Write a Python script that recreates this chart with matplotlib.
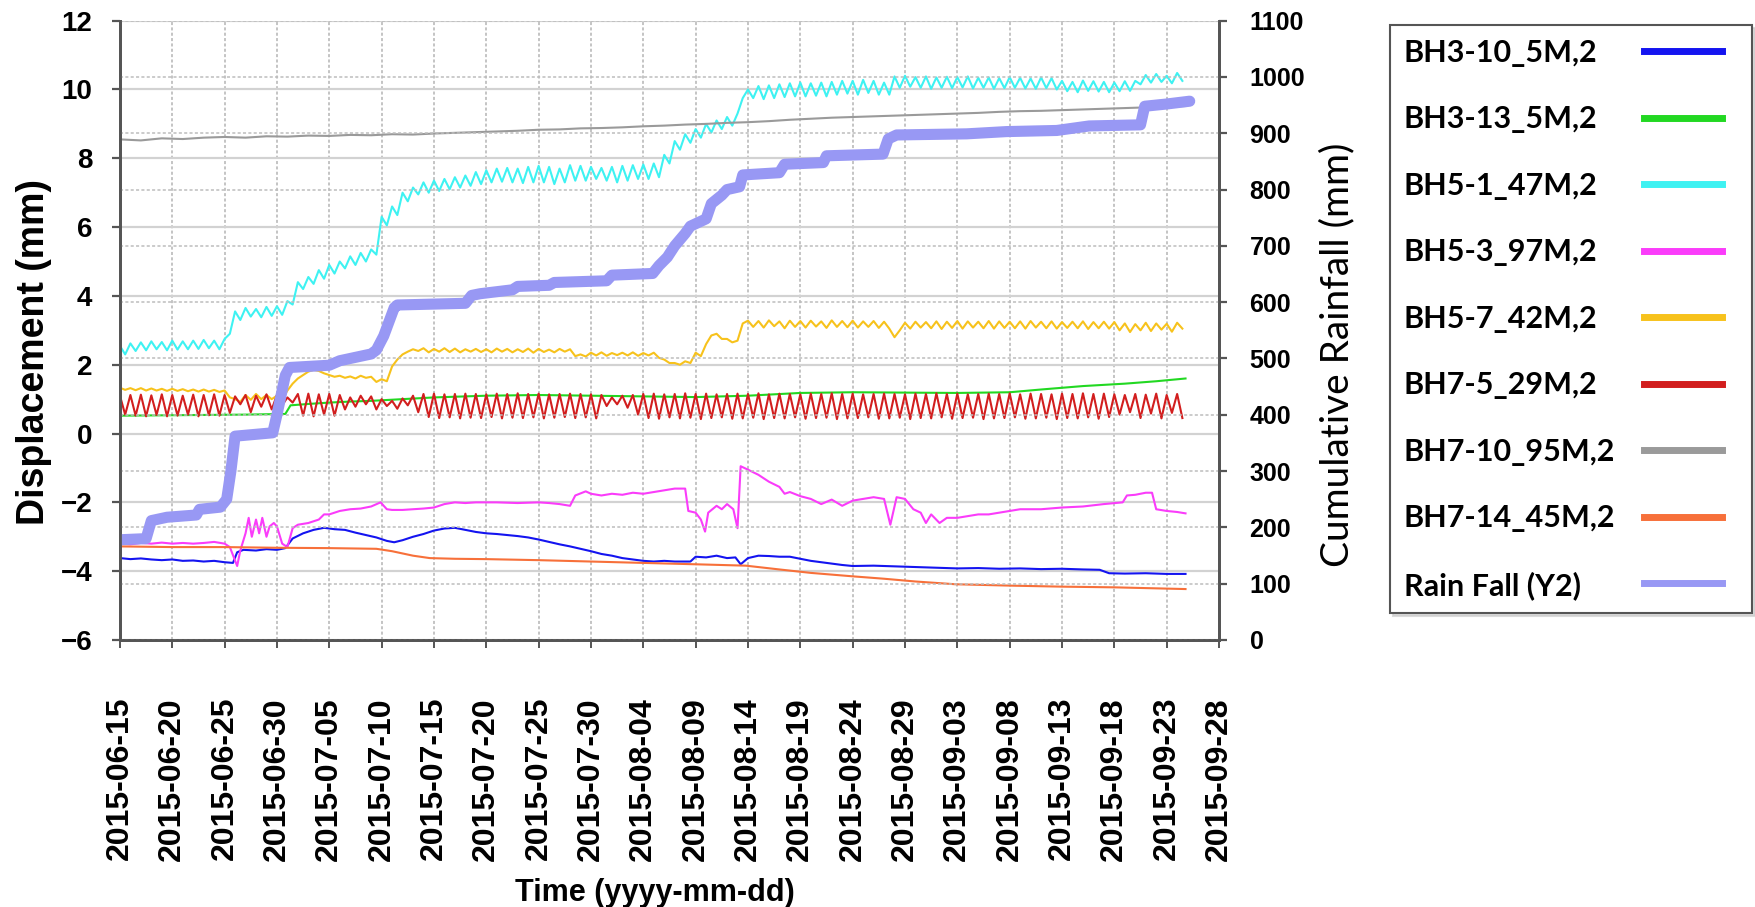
import numpy as np
import pandas as pd
import matplotlib
matplotlib.use('Agg')
import matplotlib.pyplot as plt
import matplotlib.dates as mdates
from matplotlib.lines import Line2D
from matplotlib import font_manager

# ---- data (x = days after 2015-06-15) ----
START = pd.Timestamp('2015-06-15')

labels = ['BH3-10_5M,2', 'BH3-13_5M,2', 'BH5-1_47M,2', 'BH5-3_97M,2',
          'BH5-7_42M,2', 'BH7-5_29M,2', 'BH7-10_95M,2', 'BH7-14_45M,2',
          'Rain Fall (Y2)']
colors = ['#1414f0', '#22d822', '#3ef2f2', '#fa3cfa',
          '#f7c21c', '#d21e1e', '#9a9a9a', '#f7703a', '#9898f4']

blue_days = [0, 1, 2, 3, 4, 5, 6, 7, 8, 9, 10, 10.8, 11.2, 11.8, 13, 14, 15, 15.8,
             16.5, 17.5, 18.5, 19.5, 20.5, 21.5, 22.5, 23.5, 24.5, 25.5, 26.2, 27,
             28, 29, 30, 31, 32, 33, 34, 35, 36, 37, 38, 39, 40, 41, 42, 43, 44, 45,
             46, 47, 48, 49, 50, 51, 52, 53, 54.5, 55, 56, 57, 58, 58.8, 59.3, 60,
             61, 62, 63, 64, 65, 66, 67, 68, 69, 70, 72, 74, 76, 78, 80, 82, 84, 86,
             88, 90, 92, 93.6, 94.5, 96, 98, 100, 101.8]
blue_vals = [-3.62, -3.65, -3.63, -3.66, -3.68, -3.66, -3.70, -3.69, -3.72, -3.70,
             -3.74, -3.76, -3.45, -3.38, -3.40, -3.36, -3.38, -3.33, -3.05, -2.90,
             -2.80, -2.74, -2.78, -2.80, -2.88, -2.95, -3.02, -3.12, -3.16, -3.10,
             -3.00, -2.92, -2.82, -2.76, -2.74, -2.80, -2.86, -2.90, -2.92, -2.95,
             -2.98, -3.02, -3.08, -3.15, -3.22, -3.28, -3.35, -3.42, -3.50, -3.55,
             -3.62, -3.66, -3.70, -3.72, -3.70, -3.72, -3.72, -3.58, -3.60, -3.55,
             -3.62, -3.60, -3.80, -3.62, -3.55, -3.56, -3.58, -3.58, -3.64, -3.70,
             -3.74, -3.78, -3.82, -3.85, -3.84, -3.86, -3.88, -3.90, -3.92, -3.91,
             -3.93, -3.92, -3.94, -3.93, -3.95, -3.96, -4.06, -4.07, -4.06, -4.08,
             -4.08]

green_days = [0, 4, 8, 12, 15.8, 16.3, 18, 20, 22, 24, 27, 30, 35, 40, 45, 50, 55,
              60, 65, 70, 75, 80, 85, 88, 92, 96, 99, 101.8]
green_vals = [0.52, 0.53, 0.54, 0.55, 0.57, 0.82, 0.86, 0.90, 0.93, 0.95, 1.00,
              1.05, 1.10, 1.12, 1.10, 1.08, 1.06, 1.10, 1.18, 1.20, 1.19, 1.18,
              1.20, 1.28, 1.38, 1.45, 1.52, 1.60]

cyan_hi = [2.55, 2.62, 2.65, 2.68, 2.66, 2.70, 2.68, 2.70, 2.72, 2.70, 2.75,
           3.55, 3.65, 3.62, 3.68, 3.70,
           3.85, 4.40, 4.55, 4.75, 4.90, 5.00, 5.15, 5.25, 5.35,
           6.30, 6.60, 7.00, 7.15, 7.30, 7.35, 7.40, 7.45, 7.50, 7.60,
           7.65, 7.70, 7.72, 7.70, 7.75, 7.78, 7.75, 7.70, 7.80, 7.78, 7.75, 7.72,
           7.75, 7.78, 7.80, 7.82, 7.85,
           8.10, 8.50, 8.70, 8.85, 9.00, 9.10, 9.20, 9.30,
           10.00, 10.10, 10.12, 10.15, 10.18, 10.20, 10.18, 10.20, 10.22, 10.25,
           10.25, 10.28, 10.25, 10.20,
           10.38, 10.40, 10.36, 10.38, 10.35, 10.37, 10.36, 10.38, 10.34, 10.35,
           10.33, 10.36, 10.34, 10.32, 10.35, 10.33,
           10.25, 10.22, 10.26, 10.24, 10.22, 10.20, 10.24, 10.25,
           10.42, 10.45, 10.40, 10.48]
cyan_lo = [2.30, 2.40, 2.42, 2.45, 2.42, 2.44, 2.45, 2.46, 2.48, 2.45, 2.90,
           3.30, 3.40, 3.38, 3.42, 3.45,
           3.75, 4.20, 4.35, 4.50, 4.65, 4.80, 4.90, 5.00, 5.20,
           6.05, 6.35, 6.75, 6.95, 7.00, 7.05, 7.10, 7.15, 7.20, 7.25,
           7.30, 7.32, 7.30, 7.28, 7.30, 7.30, 7.25, 7.30, 7.35, 7.35, 7.40, 7.35,
           7.30, 7.35, 7.40, 7.40, 7.45,
           7.85, 8.25, 8.45, 8.60, 8.75, 8.85, 8.95, 9.75,
           9.75, 9.72, 9.75, 9.78, 9.80, 9.80, 9.82, 9.80, 9.85, 9.88, 9.85, 9.90,
           9.85, 9.85,
           10.05, 10.08, 10.05, 10.02, 10.05, 10.04, 10.06, 10.03, 10.05, 10.02,
           10.04, 10.05, 10.03, 10.02, 10.04, 10.00,
           9.95, 9.92, 9.96, 9.94, 9.92, 9.95, 9.96, 10.15,
           10.20, 10.22, 10.18, 10.25]

magenta_days = [0, 1, 2, 3, 4, 5, 6, 7, 8, 9, 10, 10.5, 11.2, 11.5, 12, 12.3, 12.6,
                13, 13.3, 13.6, 14, 14.3, 14.7, 15, 15.5, 16, 16.5, 17, 18, 19,
                19.5, 20, 21, 22, 23, 24, 24.9, 25.5, 26, 27, 28, 29, 30, 31, 32,
                33, 34, 36, 38, 40, 41, 42, 43, 43.5, 44.5, 45, 46, 47, 48, 49, 50,
                51, 52, 53, 54, 54.3, 55, 55.5, 55.9, 56.2, 57, 57.5, 58, 58.6, 59,
                59.3, 60, 61, 62, 63, 63.5, 64, 65, 66, 67, 68, 69, 70, 71, 72, 73,
                73.6, 74.2, 75, 75.8, 76.5, 77, 77.5, 78.3, 79, 80, 81, 82, 83, 84,
                85, 86, 88, 90, 92, 94, 95.8, 96.2, 97, 98, 98.6, 99, 100, 101,
                101.8]
magenta_vals = [-3.20, -3.22, -3.18, -3.20, -3.17, -3.20, -3.18, -3.20, -3.18,
                -3.15, -3.20, -3.30, -3.85, -3.40, -2.90, -2.45, -3.00, -2.50,
                -2.90, -2.45, -3.00, -2.70, -2.60, -2.70, -3.20, -3.30, -2.75,
                -2.65, -2.60, -2.50, -2.35, -2.35, -2.25, -2.20, -2.18, -2.12,
                -2.00, -2.20, -2.22, -2.22, -2.20, -2.18, -2.15, -2.05, -2.00,
                -2.02, -2.00, -2.00, -2.02, -2.00, -2.02, -2.05, -2.10, -1.80,
                -1.68, -1.75, -1.80, -1.75, -1.78, -1.72, -1.75, -1.70, -1.65,
                -1.60, -1.60, -2.25, -2.30, -2.50, -2.85, -2.30, -2.10, -2.20,
                -2.05, -2.20, -2.75, -0.95, -1.05, -1.20, -1.40, -1.55, -1.75,
                -1.70, -1.82, -1.90, -2.05, -1.92, -2.10, -1.95, -1.90, -1.85,
                -1.90, -2.65, -1.85, -1.90, -2.20, -2.30, -2.60, -2.35, -2.60,
                -2.45, -2.45, -2.40, -2.35, -2.35, -2.30, -2.25, -2.20, -2.20,
                -2.15, -2.12, -2.05, -2.00, -1.80, -1.78, -1.72, -1.72, -2.20,
                -2.25, -2.28, -2.32]

yellow_hi = [1.33, 1.32, 1.32, 1.31, 1.30, 1.30, 1.29, 1.28, 1.28, 1.27,
             1.25, 1.00, 1.12, 1.15, 1.12, 1.10,
             1.25, 1.60, 1.80, 1.82, 1.70, 1.68, 1.66, 1.68, 1.65, 1.58, 1.95, 2.30,
             2.45, 2.48, 2.46, 2.48, 2.47, 2.45, 2.46, 2.45, 2.47, 2.46, 2.45, 2.47,
             2.46, 2.44, 2.46, 2.45,
             2.30, 2.35, 2.36, 2.34, 2.35, 2.36, 2.34, 2.35,
             2.15, 2.05, 2.10, 2.35, 2.60, 2.90, 2.75, 2.70,
             3.28, 3.27, 3.29, 3.26, 3.28, 3.27, 3.28, 3.26, 3.29, 3.27, 3.28, 3.26,
             3.27, 3.25,
             2.80,
             3.22, 3.25, 3.24, 3.26, 3.25, 3.27, 3.26, 3.25, 3.27, 3.26, 3.25, 3.26,
             3.27, 3.25, 3.26, 3.24, 3.25, 3.26, 3.24, 3.25, 3.24,
             3.20, 3.18, 3.22, 3.20, 3.19, 3.22]
yellow_lo = [1.27, 1.26, 1.25, 1.25, 1.24, 1.24, 1.23, 1.22, 1.22, 1.21,
             1.05, 0.92, 0.98, 1.00, 1.00, 1.00,
             1.45, 1.70, 1.85, 1.75, 1.65, 1.62, 1.60, 1.62, 1.50, 1.52, 2.15, 2.38,
             2.40, 2.36, 2.38, 2.37, 2.36, 2.38, 2.37, 2.36, 2.38, 2.36, 2.37, 2.35,
             2.37, 2.36, 2.38, 2.25,
             2.24, 2.27, 2.26, 2.28, 2.27, 2.26, 2.27, 2.20,
             2.05, 2.00, 2.05, 2.25, 2.85, 2.75, 2.65, 3.20,
             3.10, 3.08, 3.12, 3.06, 3.10, 3.08, 3.11, 3.07, 3.10, 3.09, 3.08, 3.10,
             3.07, 3.05,
             3.00,
             3.05, 3.08, 3.06, 3.04, 3.07, 3.05, 3.08, 3.06, 3.05, 3.07, 3.06, 3.05,
             3.08, 3.06, 3.05, 3.07, 3.06, 3.04, 3.06, 3.05, 3.00,
             2.95, 3.00, 2.98, 3.02, 2.96, 3.05]

red_hi = [1.10, 1.12, 1.13, 1.11, 1.14, 1.12, 1.10, 1.13, 1.12, 1.14,
          1.12, 1.08, 1.12, 1.10, 1.14, 1.12, 1.05,
          1.15, 1.16, 1.14, 1.15, 1.12,
          1.05, 1.10, 1.08, 1.00, 0.95, 1.02, 1.10,
          1.15, 1.16, 1.14, 1.15, 1.16, 1.15, 1.14, 1.16, 1.15, 1.17, 1.15, 1.16,
          1.14, 1.15, 1.16, 1.15, 1.14,
          1.12, 1.05, 1.10, 1.12,
          1.15, 1.16, 1.14, 1.15, 1.17, 1.15, 1.16, 1.14, 1.15, 1.16, 1.15, 1.17,
          1.14, 1.16, 1.15, 1.14, 1.16, 1.15, 1.17, 1.15, 1.16, 1.14, 1.15, 1.16,
          1.15, 1.14, 1.16, 1.15, 1.17, 1.15, 1.16, 1.14, 1.15, 1.16, 1.15, 1.17,
          1.14, 1.16, 1.15, 1.14, 1.16, 1.15, 1.17, 1.15, 1.16, 1.14, 1.12, 1.15,
          1.13, 1.16, 1.12, 1.15]
red_lo = [0.55, 0.52, 0.50, 0.54, 0.50, 0.52, 0.55, 0.50, 0.53, 0.52,
          0.60, 0.85, 0.62, 0.78, 0.70, 0.82, 0.90,
          0.52, 0.50, 0.55, 0.52, 0.70,
          0.78, 0.85, 0.70, 0.80, 0.72, 0.82, 0.62,
          0.48, 0.45, 0.47, 0.44, 0.46, 0.45, 0.48, 0.44, 0.46, 0.45, 0.47, 0.44,
          0.46, 0.48, 0.45, 0.47, 0.44,
          0.80, 0.85, 0.75, 0.55,
          0.45, 0.43, 0.47, 0.44, 0.46, 0.42, 0.45, 0.47, 0.43, 0.44, 0.46, 0.42,
          0.45, 0.44, 0.47, 0.43, 0.45, 0.46, 0.42, 0.44, 0.45, 0.47, 0.43, 0.44,
          0.46, 0.42, 0.45, 0.44, 0.47, 0.43, 0.45, 0.46, 0.42, 0.44, 0.45, 0.47,
          0.43, 0.44, 0.46, 0.42, 0.45, 0.44, 0.47, 0.43, 0.48, 0.55, 0.62, 0.45,
          0.58, 0.44, 0.60, 0.45]

gray_days = [0, 2, 4, 6, 8, 10, 12, 14, 16, 18, 20, 22, 24, 26, 28, 30, 32, 34,
             36, 38, 40, 42, 44, 46, 48, 50, 52, 54, 56, 58, 60, 62, 64, 66, 68,
             70, 72, 74, 76, 78, 80, 82, 84, 86, 88, 90, 92, 94, 96, 98, 100, 101.8]
gray_vals = [8.55, 8.52, 8.58, 8.56, 8.60, 8.62, 8.60, 8.64, 8.63, 8.66, 8.65,
             8.68, 8.67, 8.70, 8.69, 8.72, 8.74, 8.76, 8.78, 8.80, 8.83, 8.84,
             8.87, 8.88, 8.90, 8.93, 8.95, 8.98, 9.00, 9.03, 9.05, 9.08, 9.12,
             9.15, 9.18, 9.20, 9.22, 9.24, 9.26, 9.28, 9.30, 9.32, 9.35, 9.37,
             9.38, 9.40, 9.42, 9.44, 9.46, 9.48, 9.50, 9.52]

orange_days = [0, 5, 10, 15, 20, 24.5, 26, 28, 29.6, 32, 35, 40, 45, 50, 55,
               59.8, 63, 66, 70, 73, 76, 79.8, 85, 90, 95, 101.8]
orange_vals = [-3.28, -3.30, -3.30, -3.32, -3.33, -3.35, -3.42, -3.55, -3.62,
               -3.64, -3.65, -3.68, -3.72, -3.76, -3.80, -3.84, -3.95, -4.05,
               -4.15, -4.22, -4.30, -4.38, -4.42, -4.45, -4.47, -4.52]

rain_days = [0, 2.5, 3.0, 4.5, 7.3, 7.6, 9.6, 10.2, 10.6, 11.0, 14.6, 15.0, 15.8,
             16.2, 20.0, 21, 24, 24.5, 25.2, 25.6, 26.2, 26.5, 33.0, 33.6, 34.4,
             37.5, 38, 41, 41.5, 46.5, 47, 50.9, 51.5, 52.3, 53, 54, 54.5, 56,
             56.5, 57.5, 58, 59.2, 59.5, 63, 63.5, 67.2, 67.5, 72.9, 73.4, 74.2,
             80.9, 84.7, 89.5, 92.6, 97.5, 97.9, 100, 102.2]
rain_mm = [178, 180, 212, 218, 222, 232, 236, 250, 300, 362, 368, 400, 470, 484,
           488, 496, 508, 515, 540, 560, 590, 595, 598, 612, 615, 622, 628, 630,
           635, 638, 648, 651, 665, 680, 700, 722, 735, 748, 775, 790, 800, 805,
           826, 830, 845, 848, 860, 863, 890, 897, 899, 903, 905, 913, 915, 948,
           952, 957]

xticks = pd.date_range('2015-06-15', '2015-09-28', freq='5D')


def to_time(days):
    return START + pd.to_timedelta(np.asarray(days, float), unit='D')


def zigzag(hi, lo):
    # daily peak at the start of each day, trough half a day later
    d = np.arange(len(hi), dtype=float)
    t = np.column_stack([d, d + 0.5]).ravel()
    v = np.column_stack([hi, lo]).ravel()
    return to_time(t), v


names = {f.name for f in font_manager.fontManager.ttflist}
CAL = 'Lato' if 'Lato' in names else 'DejaVu Sans'
plt.rcParams['font.family'] = 'Liberation Sans'

fig = plt.figure(figsize=(17.56, 9.07), dpi=100)
ax = fig.add_axes([0.0683, 0.2944, 0.6259, 0.6828])
ax2 = ax.twinx()

# grids
ax.grid(axis='x', color='#b4b4b4', ls=(0, (2, 1.5)), lw=1.1)
ax.grid(axis='y', color='#d2d2d2', ls='-', lw=1.6)
ax2.grid(axis='y', color='#bdbdbd', ls=(0, (2, 1.5)), lw=1.1)
ax.set_axisbelow(True)
ax2.set_axisbelow(True)

series = [
    (to_time(blue_days), blue_vals),
    (to_time(green_days), green_vals),
    zigzag(cyan_hi, cyan_lo),
    (to_time(magenta_days), magenta_vals),
    zigzag(yellow_hi, yellow_lo),
    zigzag(red_hi, red_lo),
    (to_time(gray_days), gray_vals),
    (to_time(orange_days), orange_vals),
]
for (t, v), c in zip(series, colors[:8]):
    ax.plot(t, v, color=c, lw=1.5, solid_joinstyle='round')

ax2.plot(to_time(rain_days), rain_mm, color=colors[8], lw=8,
         solid_capstyle='round', solid_joinstyle='round')

ax.set_xlim(pd.Timestamp('2015-06-15'), pd.Timestamp('2015-09-28'))
ax.set_ylim(-6, 12)
ax2.set_ylim(0, 1100)
ax.set_yticks(np.arange(-6, 13, 2))
ax2.set_yticks(np.arange(0, 1101, 100))
ax.set_xticks(xticks)
ax.xaxis.set_major_formatter(mdates.DateFormatter('%Y-%m-%d'))

for a in (ax, ax2):
    a.spines['top'].set_visible(False)
    for s in ('left', 'right', 'bottom'):
        a.spines[s].set_color('#555555')
        a.spines[s].set_linewidth(2)

ax.tick_params(axis='y', direction='out', length=6, width=1.6, color='#555555',
               labelsize=20, pad=14)
ax2.tick_params(axis='y', direction='out', length=6, width=1.6, color='#555555',
                labelsize=18, pad=16)
ax.tick_params(axis='x', direction='out', length=6, width=1.4, color='#555555',
               labelsize=23, pad=35, labelrotation=90)
for lab in ax.get_yticklabels() + ax2.get_yticklabels() + ax.get_xticklabels():
    lab.set_fontweight('bold')

ax.set_ylabel('Displacement (mm)', fontsize=27, fontweight='bold', va='center')
ax.yaxis.set_label_coords(-0.078, 0.465)
ax2.set_ylabel('Cumulative Rainfall (mm)', fontsize=28, family=CAL,
               rotation=90, va='center')
ax2.yaxis.set_label_coords(1.108, 0.46)
ax.set_xlabel('Time (yyyy-mm-dd)', fontsize=22, fontweight='bold', va='center')
ax.xaxis.set_label_coords(0.487, -0.408)

# legend: left-aligned labels in a framed box, line swatches in a column on the right
leg_kw = dict(loc='upper left', prop={'family': CAL, 'weight': 'bold', 'size': 22},
              labelspacing=1.26, borderpad=0.45, borderaxespad=0)
blank = [Line2D([], [], lw=0) for _ in labels]
leg = fig.legend(blank, labels, bbox_to_anchor=(0.7916, 0.9724, 0.2062, 0),
                 mode='expand', handlelength=0, handletextpad=0, frameon=True,
                 fancybox=False, shadow={'color': '0.8', 'alpha': 0.7}, **leg_kw)
leg.get_frame().set_edgecolor('#555555')
leg.get_frame().set_linewidth(1.5)
swatches = [Line2D([], [], color=c, lw=5) for c in colors]
fig.legend(swatches, [' '] * len(labels), bbox_to_anchor=(0.9283, 0.9724),
           handlelength=2.55, handletextpad=0, frameon=False, **leg_kw)

fig.savefig('out.png', dpi=100)
